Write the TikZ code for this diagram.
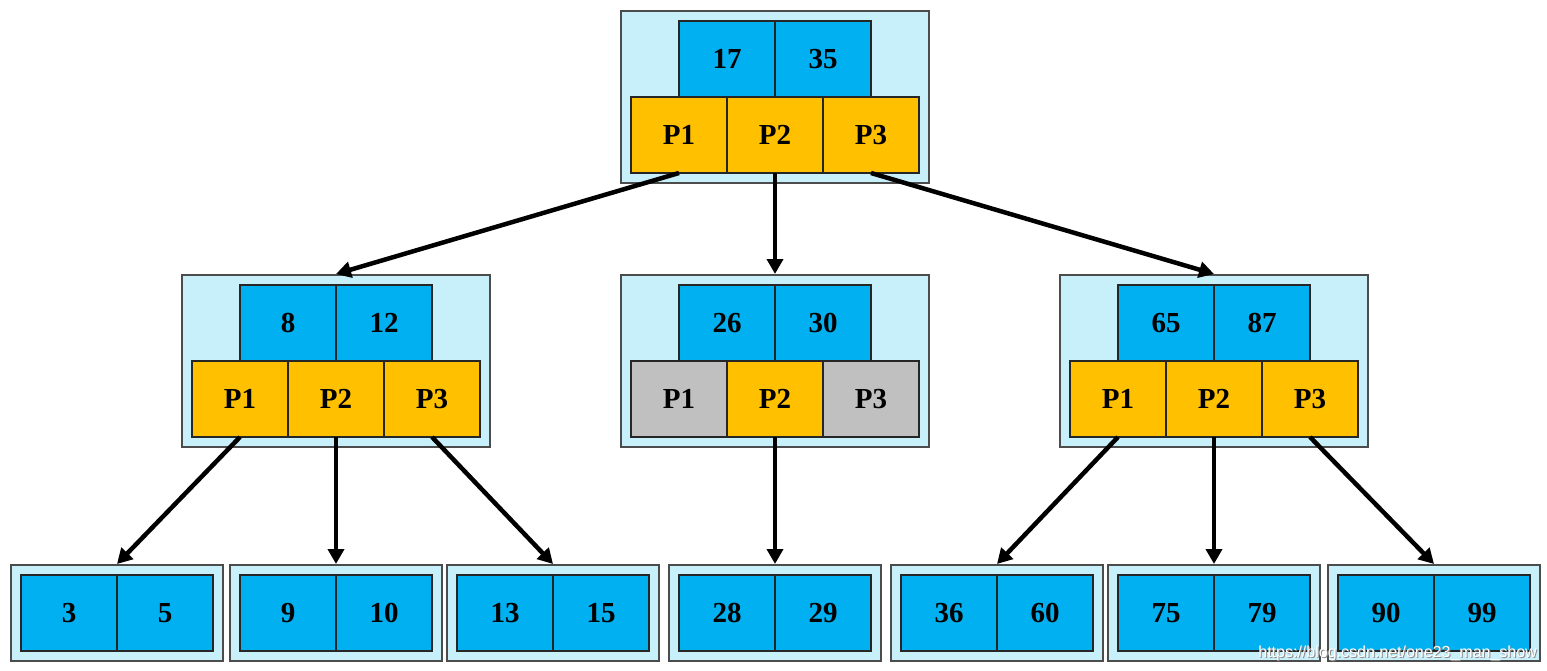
\documentclass[tikz,border=0pt]{standalone}
\usepackage{fontspec}
\setmainfont{Liberation Serif}
\newfontfamily\wmfont{Liberation Sans}
\usetikzlibrary{arrows.meta, positioning, backgrounds, fit}
\definecolor{keyblue}{RGB}{0,176,240}
\definecolor{ptrgold}{RGB}{255,192,0}
\definecolor{ptrgrey}{RGB}{192,192,192}
\definecolor{boxcyan}{RGB}{200,240,250}
\tikzset{%
	cell/.style={draw=black!85, line width=1.2pt, minimum width=96pt, minimum height=76pt,%
		inner sep=0pt, outer sep=0pt, font=\bfseries\fontsize{29}{34}\selectfont},
	keycell/.style={cell, fill=keyblue},
	ptrcell/.style={cell, fill=ptrgold},
	greycell/.style={cell, fill=ptrgrey},
	nodebox/.style={draw=black!70, line width=2pt, fill=boxcyan, inner sep=10pt},
	ptrarrow/.style={-{Triangle[length=15pt,width=16pt]}, line width=4.5pt}
}
\begin{document}
\begin{tikzpicture}[x=1pt, y=-1pt, node distance=0pt]
		\useasboundingbox (0,0) rectangle (1547,671);
		% root
		\node[ptrcell] (root-p2) at (775,135) {P2};
		\node[ptrcell] (root-p1) [left=of root-p2] {P1};
		\node[ptrcell] (root-p3) [right=of root-p2] {P3};
		\node[keycell] (root-k1) [above left=of root-p2.north] {17};
		\node[keycell] (root-k2) [above right=of root-p2.north] {35};
		% second level
		\node[ptrcell] (left-p2) at (336,399) {P2};
		\node[ptrcell] (left-p1) [left=of left-p2] {P1};
		\node[ptrcell] (left-p3) [right=of left-p2] {P3};
		\node[keycell] (left-k1) [above left=of left-p2.north] {8};
		\node[keycell] (left-k2) [above right=of left-p2.north] {12};
		\node[ptrcell] (mid-p2) at (775,399) {P2};
		\node[greycell] (mid-p1) [left=of mid-p2] {P1};
		\node[greycell] (mid-p3) [right=of mid-p2] {P3};
		\node[keycell] (mid-k1) [above left=of mid-p2.north] {26};
		\node[keycell] (mid-k2) [above right=of mid-p2.north] {30};
		\node[ptrcell] (right-p2) at (1214,399) {P2};
		\node[ptrcell] (right-p1) [left=of right-p2] {P1};
		\node[ptrcell] (right-p3) [right=of right-p2] {P3};
		\node[keycell] (right-k1) [above left=of right-p2.north] {65};
		\node[keycell] (right-k2) [above right=of right-p2.north] {87};
		% leaves
		\node[keycell, anchor=east] (lf1-a) at (117,613) {3};
		\node[keycell] (lf1-b) [right=of lf1-a] {5};
		\node[keycell, anchor=east] (lf2-a) at (336,613) {9};
		\node[keycell] (lf2-b) [right=of lf2-a] {10};
		\node[keycell, anchor=east] (lf3-a) at (553,613) {13};
		\node[keycell] (lf3-b) [right=of lf3-a] {15};
		\node[keycell, anchor=east] (lf4-a) at (775,613) {28};
		\node[keycell] (lf4-b) [right=of lf4-a] {29};
		\node[keycell, anchor=east] (lf5-a) at (997,613) {36};
		\node[keycell] (lf5-b) [right=of lf5-a] {60};
		\node[keycell, anchor=east] (lf6-a) at (1214,613) {75};
		\node[keycell] (lf6-b) [right=of lf6-a] {79};
		\node[keycell, anchor=east] (lf7-a) at (1434,613) {90};
		\node[keycell] (lf7-b) [right=of lf7-a] {99};

		\begin{scope}[on background layer]
			\node[nodebox, fit=(root-p1) (root-p3) (root-k1)] (root) {};
			\node[nodebox, fit=(left-p1) (left-p3) (left-k1)] (left) {};
			\node[nodebox, fit=(mid-p1) (mid-p3) (mid-k1)] (mid) {};
			\node[nodebox, fit=(right-p1) (right-p3) (right-k1)] (right) {};
			\node[nodebox, fit=(lf1-a) (lf1-b)] (lf1) {};
			\node[nodebox, fit=(lf2-a) (lf2-b)] (lf2) {};
			\node[nodebox, fit=(lf3-a) (lf3-b)] (lf3) {};
			\node[nodebox, fit=(lf4-a) (lf4-b)] (lf4) {};
			\node[nodebox, fit=(lf5-a) (lf5-b)] (lf5) {};
			\node[nodebox, fit=(lf6-a) (lf6-b)] (lf6) {};
			\node[nodebox, fit=(lf7-a) (lf7-b)] (lf7) {};
		\end{scope}

		\draw [ptrarrow] (root-p1.south) to (left.north);
		\draw [ptrarrow] (root-p2.south) to (mid.north);
		\draw [ptrarrow] (root-p3.south) to (right.north);
		\draw [ptrarrow] (left-p1.south) to (lf1.north);
		\draw [ptrarrow] (left-p2.south) to (lf2.north);
		\draw [ptrarrow] (left-p3.south) to (lf3.north);
		\draw [ptrarrow] (mid-p2.south) to (lf4.north);
		\draw [ptrarrow] (right-p1.south) to (lf5.north);
		\draw [ptrarrow] (right-p2.south) to (lf6.north);
		\draw [ptrarrow] (right-p3.south) to (lf7.north);

		% watermark
		\node[anchor=base east, inner sep=0pt, text=black!45, font=\wmfont\fontsize{16}{18}\selectfont]
			(wm-shadow) at (1538,658) {https://blog.csdn.net/one23\_man\_show};
		\node[anchor=base east, inner sep=0pt, text=white, font=\wmfont\fontsize{16}{18}\selectfont]
			(wm) at (1537,657) {https://blog.csdn.net/one23\_man\_show};
	\end{tikzpicture}
\end{document}
